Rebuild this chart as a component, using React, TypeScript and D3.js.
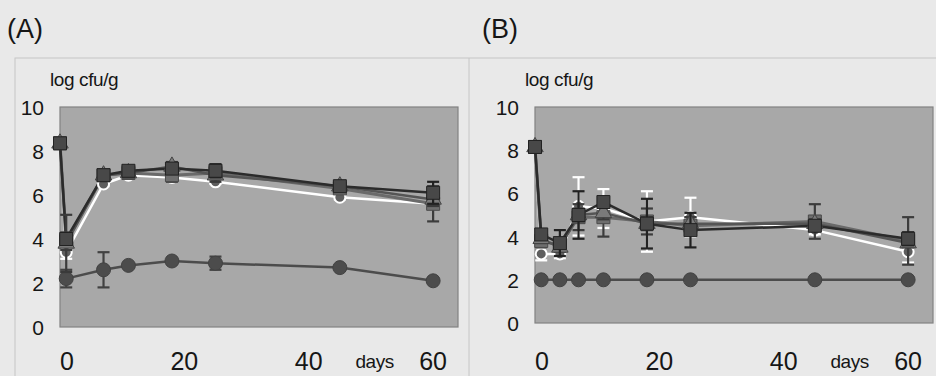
import { line, scaleLinear, symbol, symbolSquare, symbolTriangle } from "d3";

// days sampled
const DAYS_A = [0, 1, 7, 11, 18, 25, 45, 60];
const DAYS_A_LOW = [1, 7, 11, 18, 25, 45, 60];
const DAYS_B = [0, 1, 4, 7, 11, 18, 25, 45, 60];
const DAYS_B_LOW = [1, 4, 7, 11, 18, 25, 45, 60];

// panel A, log cfu/g
const A_OPEN = [8.35, 3.4, 6.5, 6.9, 6.8, 6.6, 5.9, 5.6];
const A_OPEN_ERR = [0, 0.3, 0.1, 0.1, 0.2, 0.1, 0.1, 0.2];
const A_GREY = [8.35, 3.9, 6.9, 7.0, 6.9, 7.0, 6.3, 5.6];
const A_GREY_ERR = [0, 0.4, 0.2, 0.2, 0.3, 0.3, 0.2, 0.8];
const A_TRIANGLE = [8.35, 3.8, 6.9, 7.0, 7.3, 6.9, 6.4, 5.8];
const A_TRIANGLE_ERR = [0, 1.3, 0.2, 0.2, 0.2, 0.3, 0.2, 0.3];
const A_SQUARE = [8.35, 4.0, 6.9, 7.1, 7.2, 7.1, 6.4, 6.1];
const A_SQUARE_ERR = [0, 0.2, 0.2, 0.2, 0.2, 0.3, 0.2, 0.5];
const A_LOW = [2.2, 2.6, 2.8, 3.0, 2.9, 2.7, 2.1];
const A_LOW_ERR = [0.4, 0.8, 0.1, 0.1, 0.3, 0.1, 0.1];

// panel B, log cfu/g
const B_OPEN = [8.15, 3.2, 3.2, 5.4, 5.3, 4.7, 4.9, 4.3, 3.3];
const B_OPEN_ERR = [0, 0.3, 0.2, 1.35, 0.9, 1.4, 0.9, 0.2, 0.5];
const B_GREY = [8.15, 3.8, 3.6, 4.9, 4.9, 4.7, 4.5, 4.7, 3.8];
const B_GREY_ERR = [0, 0.3, 0.3, 0.6, 0.9, 0.6, 0.4, 0.8, 1.1];
const B_TRIANGLE = [8.15, 3.9, 3.5, 5.0, 5.1, 4.6, 4.6, 4.6, 3.7];
const B_TRIANGLE_ERR = [0, 0.2, 0.2, 0.3, 0.3, 0.3, 0.3, 0.2, 0.2];
const B_SQUARE = [8.15, 4.1, 3.7, 5.0, 5.6, 4.6, 4.3, 4.5, 3.9];
const B_SQUARE_ERR = [0, 0.2, 0.6, 1.1, 0.2, 1.15, 0.8, 0.2, 0.3];
const B_LOW = [2.0, 2.0, 2.0, 2.0, 2.0, 2.0, 2.0, 2.0];
const B_LOW_ERR = [0, 0, 0, 0, 0, 0, 0, 0];

const Y_TICKS = [0, 2, 4, 6, 8, 10];
const X_TICKS = [0, 20, 40, 60];

const FONT = "'Liberation Sans', Arial, sans-serif";

type Marker = "circle" | "square" | "triangle";

interface Series {
  days: number[];
  values: number[];
  err: number[];
  marker: Marker;
  lineColor: string;
  lineWidth: number;
  fill: string;
  stroke: string;
  errColor: string;
  size: number;
}

function style(
  marker: Marker,
  lineColor: string,
  lineWidth: number,
  fill: string,
  stroke: string,
  errColor: string,
  size: number,
) {
  return { marker, lineColor, lineWidth, fill, stroke, errColor, size };
}

const OPEN_STYLE = style("circle", "#ffffff", 2.5, "#5e5e5e", "#ffffff", "#ffffff", 5.5);
const GREY_STYLE = style("square", "#6a6a6a", 3, "#6e6e6e", "#4a4a4a", "#3c3c3c", 13);
const TRI_STYLE = style("triangle", "#555555", 2.5, "#7a7a7a", "#444444", "#3a3a3a", 14);
const SQUARE_STYLE = style("square", "#2b2b2b", 2.5, "#484848", "#222222", "#222222", 13);
const LOW_STYLE = style("circle", "#4c4c4c", 2.5, "#4c4c4c", "#424242", "#424242", 7);

const SERIES_A: Series[] = [
  { days: DAYS_A_LOW, values: A_LOW, err: A_LOW_ERR, ...LOW_STYLE },
  { days: DAYS_A, values: A_OPEN, err: A_OPEN_ERR, ...OPEN_STYLE },
  { days: DAYS_A, values: A_GREY, err: A_GREY_ERR, ...GREY_STYLE },
  { days: DAYS_A, values: A_TRIANGLE, err: A_TRIANGLE_ERR, ...TRI_STYLE },
  { days: DAYS_A, values: A_SQUARE, err: A_SQUARE_ERR, ...SQUARE_STYLE },
];

const SERIES_B: Series[] = [
  { days: DAYS_B_LOW, values: B_LOW, err: B_LOW_ERR, ...LOW_STYLE },
  { days: DAYS_B, values: B_OPEN, err: B_OPEN_ERR, ...OPEN_STYLE },
  { days: DAYS_B, values: B_GREY, err: B_GREY_ERR, ...GREY_STYLE },
  { days: DAYS_B, values: B_TRIANGLE, err: B_TRIANGLE_ERR, ...TRI_STYLE },
  { days: DAYS_B, values: B_SQUARE, err: B_SQUARE_ERR, ...SQUARE_STYLE },
];

interface PanelProps {
  label: string;
  series: Series[];
  left: number;
  right: number;
  top: number;
  bottom: number;
}

function Panel({ label, series, left, right, top, bottom }: PanelProps) {
  const x = scaleLinear().domain([0, 64]).range([left, right]);
  const y = scaleLinear().domain([0, 10]).range([bottom, top]);
  const cap = 6;

  const markerPath = (s: Series) => {
    if (s.marker === "square") return symbol(symbolSquare, s.size * s.size)() ?? "";
    return symbol(symbolTriangle, s.size * s.size * 0.6)() ?? "";
  };

  return (
    <g>
      <text x={left - 53} y={38} fontSize={27} fontFamily={FONT} fill="#161616">
        {label}
      </text>
      <text
        x={left - 10}
        y={86}
        fontSize={19}
        fontFamily={FONT}
        fill="#161616"
        letterSpacing={-0.4}
      >
        log cfu/g
      </text>
      <rect
        x={left}
        y={top}
        width={right - left}
        height={bottom - top}
        fill="#a8a8a8"
        stroke="#828282"
        strokeWidth={1.2}
      />
      {Y_TICKS.map((t) => (
        <text
          key={t}
          x={left - 16}
          y={y(t) + 8}
          textAnchor="end"
          fontSize={21}
          fontFamily={FONT}
          fill="#161616"
        >
          {t}
        </text>
      ))}
      {X_TICKS.map((t) => (
        <text
          key={t}
          x={x(t) + (t === 0 ? 7 : 0)}
          y={370}
          textAnchor="middle"
          fontSize={25}
          fontFamily={FONT}
          fill="#161616"
        >
          {t}
        </text>
      ))}
      <text
        x={x(47.5)}
        y={368}
        fontSize={19}
        fontFamily={FONT}
        fill="#161616"
        letterSpacing={-0.4}
      >
        days
      </text>
      {series.map((s, i) => {
        const pts = s.days.map((d, j) => [x(d), y(s.values[j])] as [number, number]);
        return (
          <path
            key={i}
            d={line()(pts) ?? ""}
            fill="none"
            stroke={s.lineColor}
            strokeWidth={s.lineWidth}
            strokeLinejoin="round"
          />
        );
      })}
      {series.map((s, i) => (
        <g key={i}>
          {s.days.map((d, j) => {
            const e = s.err[j];
            if (!e) return null;
            const cx = x(d);
            const y0 = y(s.values[j] - e);
            const y1 = y(s.values[j] + e);
            return (
              <g key={j} stroke={s.errColor} strokeWidth={2.2}>
                <line x1={cx} x2={cx} y1={y0} y2={y1} />
                <line x1={cx - cap} x2={cx + cap} y1={y0} y2={y0} />
                <line x1={cx - cap} x2={cx + cap} y1={y1} y2={y1} />
              </g>
            );
          })}
          {s.days.map((d, j) => {
            const cx = x(d);
            const cy = y(s.values[j]);
            if (s.marker === "circle") {
              return (
                <circle
                  key={j}
                  cx={cx}
                  cy={cy}
                  r={s.size}
                  fill={s.fill}
                  stroke={s.stroke}
                  strokeWidth={s.stroke === "#ffffff" ? 2 : 1}
                />
              );
            }
            return (
              <path
                key={j}
                d={markerPath(s)}
                transform={`translate(${cx},${cy})`}
                fill={s.fill}
                stroke={s.stroke}
                strokeWidth={1}
              />
            );
          })}
        </g>
      ))}
    </g>
  );
}

export default function App() {
  return (
    <div style={{ position: "fixed", left: 0, top: 0 }}>
      <svg width={936} height={376} viewBox="0 0 936 376" style={{ display: "block" }}>
        <rect x={0} y={0} width={936} height={376} fill="#e9e9e9" />
        <rect x={15} y={58} width={940} height={340} fill="none" stroke="#c6c6c6" strokeWidth={1} />
        <line x1={469} x2={469} y1={58} y2={376} stroke="#c6c6c6" strokeWidth={1} />
        <Panel label="(A)" series={SERIES_A} left={60} right={458} top={107} bottom={327} />
        <Panel label="(B)" series={SERIES_B} left={535} right={933} top={107} bottom={323} />
      </svg>
    </div>
  );
}
